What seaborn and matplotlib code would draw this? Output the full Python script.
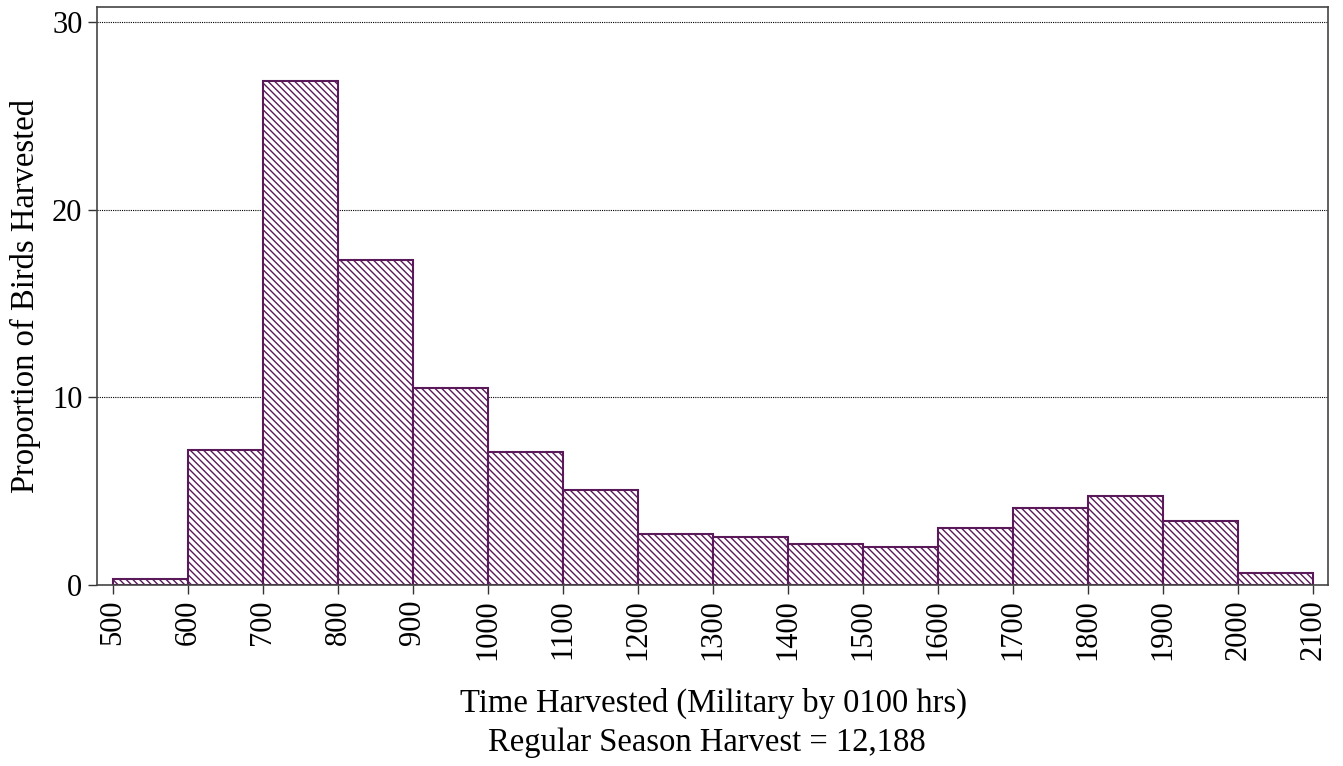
import numpy as np
import pandas as pd
import matplotlib
matplotlib.use("Agg")
import matplotlib.pyplot as plt
import seaborn as sns

bin_edges = [500, 600, 700, 800, 900, 1000, 1100, 1200, 1300, 1400, 1500,
             1600, 1700, 1800, 1900, 2000, 2100]
proportions = [0.33, 7.17, 26.84, 17.34, 10.48, 7.10, 5.05, 2.74, 2.54, 2.21,
               2.05, 3.04, 4.09, 4.72, 3.40, 0.66]
y_ticks = [0, 10, 20, 30]
x_label = "Time Harvested (Military by 0100 hrs)"
sub_label = "Regular Season Harvest = 12,188"
y_label = "Proportion of Birds Harvested"

mids = [(a + b) / 2 for a, b in zip(bin_edges[:-1], bin_edges[1:])]
df = pd.DataFrame({"time": mids, "prop": proportions})

sns.set_style("white")
plt.rcParams["font.family"] = ["Liberation Serif", "DejaVu Serif"]
plt.rcParams["hatch.linewidth"] = 1.0
plt.rcParams["hatch.color"] = "#4a0a4a"
plt.rcParams["text.color"] = "black"
plt.rcParams["axes.labelcolor"] = "black"
plt.rcParams["xtick.color"] = "black"
plt.rcParams["ytick.color"] = "black"

fig = plt.figure(figsize=(13.43, 7.66), dpi=100)
ax = fig.add_axes([97 / 1343, 1 - 585 / 766, (1328 - 97) / 1343, (585 - 7) / 766])

sns.histplot(data=df, x="time", weights="prop", bins=bin_edges, ax=ax,
             stat="count", fill=True, color="white", edgecolor="#5a1a5a",
             linewidth=1.5, alpha=1)
for p in ax.patches:
    p.set_hatch("\\\\\\\\\\")
    p.set_facecolor("white")
    p.set_edgecolor("#5a1a5a")

ax.set_xlim(478.7, 2120)
ax.set_ylim(0, 30.8)
ax.set_yticks(y_ticks)
ax.set_xticks(bin_edges)
ax.set_xticklabels([str(v) for v in bin_edges], rotation=90, fontsize=22)
ax.set_yticklabels([str(v) for v in y_ticks], fontsize=22)
ax.tick_params(axis="both", direction="out", length=6.5, width=1, color="#333333",
               bottom=True, left=True, pad=4)
for y in y_ticks[1:]:
    ax.axhline(y, color="black", linestyle=(0, (1, 1)), linewidth=0.8, zorder=0)
for s in ax.spines.values():
    s.set_visible(True)
    s.set_color("#444444")
    s.set_linewidth(1.2)
ax.set_xlabel("")
ax.set_ylabel(y_label, fontsize=23.5, labelpad=8)

fig.text(714 / 1343, 1 - 703 / 766, x_label, ha="center", va="center", fontsize=23.5)
fig.text(707 / 1343, 1 - 743 / 766, sub_label, ha="center", va="center", fontsize=23.5)

fig.savefig("out.png", dpi=100)
